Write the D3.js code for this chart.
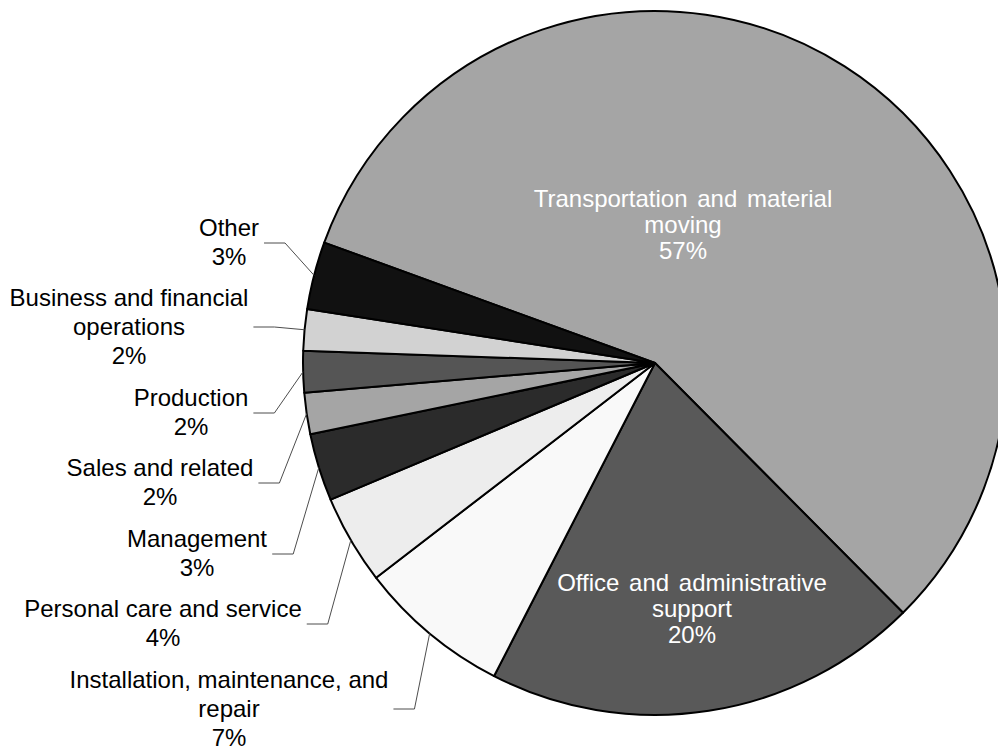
<!DOCTYPE html>
<html>
<head>
<meta charset="utf-8">
<script src="https://cdn.jsdelivr.net/npm/d3@7/dist/d3.min.js"></script>
<style>
  body { margin: 0; background: #fff; }
  svg { display: block; font-family: "Liberation Sans", Arial, sans-serif; }
</style>
</head>
<body>
<svg id="pieChart"></svg>
<script>
// data (share of total, in %)
var categories = [
  ["Transportation and material", "moving"],
  ["Office and administrative", "support"],
  ["Installation, maintenance, and", "repair"],
  ["Personal care and service"],
  ["Management"],
  ["Sales and related"],
  ["Production"],
  ["Business and financial", "operations"],
  ["Other"]
];
var values = [57.0, 20.0, 7.0, 4.1, 3.1, 1.9, 1.9, 1.9, 3.1];
var fills = ["#a5a5a5", "#595959", "#f9f9f9", "#ededed", "#2b2b2b", "#a5a5a5", "#555555", "#d2d2d2", "#111111"];

// layout
var svgWidth = 998, svgHeight = 750;
var cx = 655, cy = 363, radius = 352;
var startDeg = 290;
// label block centres (x, y); inside labels have no leader line
var labelPos = [
  [683, 225], [692, 609], [229, 709], [163, 624], [197, 554],
  [160, 483], [191, 413], [129, 327], [229, 243]
];
var inside = [true, true, false, false, false, false, false, false, false];

var svg = d3.select("#pieChart")
  .attr("width", svgWidth)
  .attr("height", svgHeight);

var pie = d3.pie()
  .sort(null)
  .startAngle(startDeg * Math.PI / 180)
  .endAngle(startDeg * Math.PI / 180 + 2 * Math.PI);

var arc = d3.arc()
  .innerRadius(0)
  .outerRadius(radius);

var arcs = pie(values);
var total = d3.sum(values);

var g = svg.append("g")
  .attr("transform", "translate(" + cx + "," + cy + ")");

g.selectAll("path.slice")
  .data(arcs)
  .enter()
  .append("path")
  .attr("class", "slice")
  .attr("d", arc)
  .style("fill", function(d, i) { return fills[i]; })
  .style("stroke", "#000")
  .style("stroke-width", 2)
  .style("stroke-linejoin", "round");

// labels
var labels = svg.append("g");

arcs.forEach(function(d, i) {
  var lines = categories[i].concat([Math.round(d.value / total * 100) + "%"]);
  var lh = inside[i] ? 26 : 29;
  var pos = labelPos[i];
  var firstBase = pos[1] + 7.5 - (lines.length - 1) * lh / 2;

  var t = labels.append("text")
    .attr("text-anchor", "middle")
    .style("font-size", "24px")
    .style("fill", inside[i] ? "#fff" : "#000")
    .style("word-spacing", inside[i] ? "3px" : "0px");

  lines.forEach(function(line, j) {
    t.append("tspan")
      .attr("x", pos[0])
      .attr("y", firstBase + j * lh)
      .text(line);
  });

  if (!inside[i]) {
    var w = t.node().getBBox().width;
    var x0 = pos[0] + w / 2 + 5;
    var mid = (d.startAngle + d.endAngle) / 2;
    var ex = cx + radius * Math.sin(mid);
    var ey = cy - radius * Math.cos(mid);
    labels.append("polyline")
      .attr("points", [[x0, pos[1]], [x0 + 21, pos[1]], [ex, ey]].map(function(p) { return p.join(","); }).join(" "))
      .style("fill", "none")
      .style("stroke", "#4d4d4d")
      .style("stroke-width", 1);
  }
});
</script>
</body>
</html>
